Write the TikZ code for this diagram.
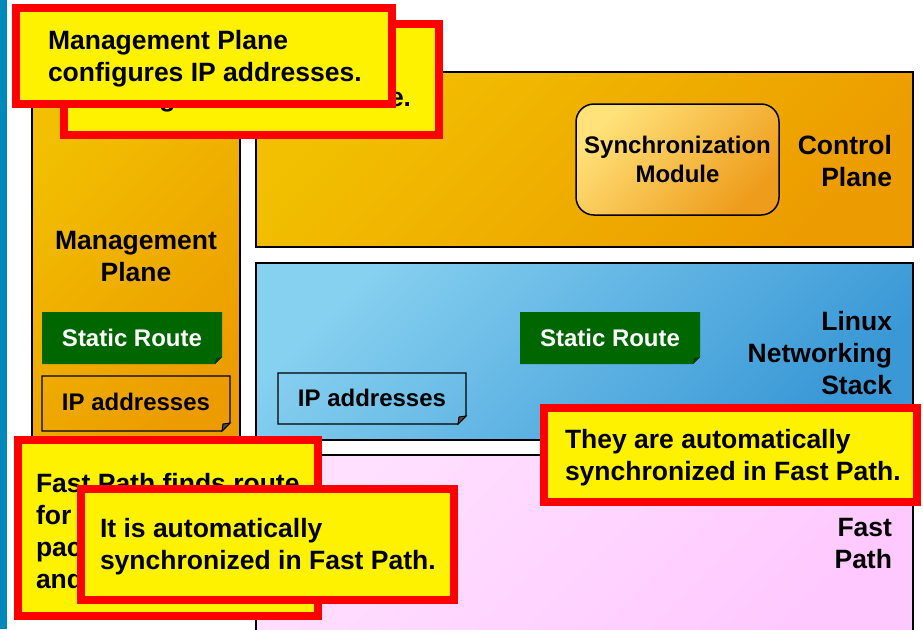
\documentclass[tikz,border=0pt]{standalone}
\usepackage{fontspec}
\setmainfont{Liberation Sans}
\definecolor{orA}{HTML}{F2C000}
\definecolor{orB}{HTML}{EC9C00}
\definecolor{blA}{HTML}{86D0F0}
\definecolor{blB}{HTML}{3A98D6}
\definecolor{pkA}{HTML}{FFE0FF}
\definecolor{pkB}{HTML}{FFC8FF}
\definecolor{syA}{HTML}{FFE27A}
\definecolor{syB}{HTML}{EE9C1C}
\definecolor{grn}{HTML}{006600}
\definecolor{barblue}{HTML}{0088BB}
\begin{document}
\begin{tikzpicture}[x=1pt,y=-1pt,
  plane/.style={draw=black, line width=1.5pt, outer sep=0pt, inner sep=0pt, anchor=north west},
  orshade/.style={top color=orA, bottom color=orB, shading angle=45},
  blshade/.style={top color=blA, bottom color=blB, shading angle=45},
  pkshade/.style={top color=pkA, bottom color=pkB, shading angle=45},
  syshade/.style={top color=syA, bottom color=syB, shading angle=45},
  note/.style={draw=red, line width=8pt, fill=yellow, outer sep=0pt, inner sep=0pt, anchor=north west},
  txt/.style={font=\fontsize{26.5}{32}\selectfont\bfseries, inner sep=0pt, outer sep=0pt},
  lbl/.style={font=\fontsize{24}{29}\selectfont\bfseries, inner sep=0pt, outer sep=0pt},
  greenbox/.style={fill=grn},
  ipbox/.style={draw=black, line width=1.3pt}
]
\useasboundingbox (0,0) rectangle (923,629);
\clip (0,0) rectangle (923,629);
\fill[white] (0,0) rectangle (923,629);
\fill[barblue] (0,0) rectangle (7,629);

% planes
\node[plane, orshade, minimum width=208, minimum height=368] (mgmt) at (32,72) {};
\node[plane, orshade, minimum width=657, minimum height=175] (ctrl) at (256,72) {};
\node[plane, blshade, minimum width=657, minimum height=177] (linux) at (256,263) {};
\node[plane, pkshade, minimum width=657, minimum height=200] (fast) at (256,455) {};

% control plane contents
\node[draw=black, line width=1.5pt, rounded corners=18pt, syshade, minimum width=203, minimum height=111,
      anchor=north west, outer sep=0pt] (sync) at (576,104) {};
\node[lbl, align=center] (synct) at (sync.center) {Synchronization\\Module};
\node[txt, align=right, anchor=east] (ctrlt) at (892,161) {Control\\Plane};

% management plane contents
\node[txt, align=center] (mgmtt) at (136,257) {Management\\Plane};
\fill[greenbox] (42,312) -- (222,312) -- (222,357) -- (215,364) -- (42,364) -- cycle;
\fill[grn!55!black] (222,357) -- (215,364) -- (216,358) -- cycle;
\node[lbl, white] (sr1) at (132,338) {Static Route};
\draw[ipbox] (42,376) -- (230,376) -- (230,423) -- (222,431) -- (42,431) -- cycle;
\draw[line width=1pt, fill=black!70] (230,423) -- (223,424) -- (222,431) -- cycle;
\node[lbl] (ip1) at (136,402) {IP addresses};

% linux contents
\node[txt, align=right, anchor=east] (linuxt) at (892,353) {Linux\\Networking\\Stack};
\fill[greenbox] (520,312) -- (700,312) -- (700,357) -- (693,364) -- (520,364) -- cycle;
\fill[grn!55!black] (700,357) -- (693,364) -- (694,358) -- cycle;
\node[lbl, white] (sr2) at (610,338) {Static Route};
\draw[ipbox] (278,373) -- (466,373) -- (466,416) -- (458,424) -- (278,424) -- cycle;
\draw[line width=1pt, fill=black!70] (466,416) -- (459,417) -- (458,424) -- cycle;
\node[lbl] (ip2) at (372,398) {IP addresses};

% fast path
\node[txt, align=right, anchor=east] (fastt) at (892,544) {Fast\\Path};

% callouts
\node[note, minimum width=375, minimum height=111] (noteA) at (64,24) {};
\node[txt, align=left, anchor=west] (noteAt) at (96,84) {Management Plane\\configures a static route.};
\node[note, minimum width=376, minimum height=96] (noteB) at (16,8) {};
\node[txt, align=left, anchor=west] (noteBt) at (48,59) {Management Plane\\configures IP addresses.};
\node[note, minimum width=300, minimum height=176] (noteC) at (18,440) {};
\node[txt, align=left, anchor=west] (noteCt) at (36,531) {Fast Path finds route\\for the received\\packets by itself\\and forwards them.};
\node[note, minimum width=373, minimum height=111] (noteD) at (81,489) {};
\node[txt, align=left, anchor=west] (noteDt) at (100,547) {It is automatically\\synchronized in Fast Path.};
\node[note, minimum width=373, minimum height=94] (noteE) at (544,408) {};
\node[txt, align=left, anchor=west] (noteEt) at (565,458) {They are automatically\\synchronized in Fast Path.};
\end{tikzpicture}
\end{document}
